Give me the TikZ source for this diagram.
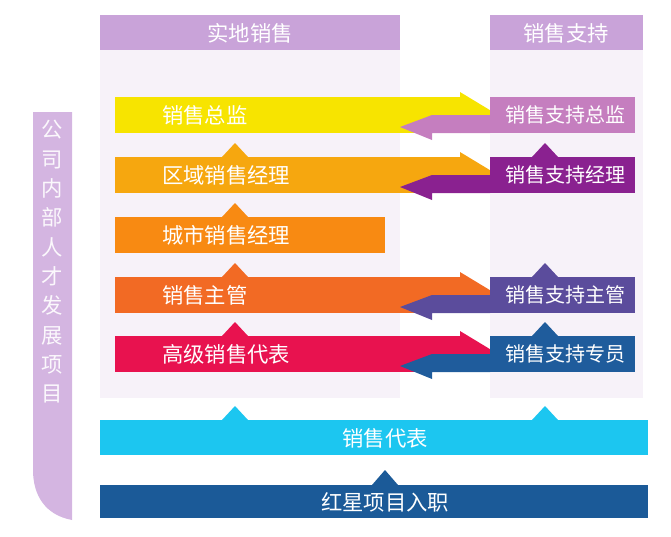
\documentclass[tikz,border=0pt]{standalone}
\usepackage{fontspec}
\newfontfamily\cjk{Noto Sans CJK SC}
\usetikzlibrary{positioning}
\definecolor{lav}{HTML}{C9A3D9}
\definecolor{paleL}{HTML}{F7F2F9}
\definecolor{cA}{HTML}{F7E400}
\definecolor{cB}{HTML}{F6A70F}
\definecolor{cC}{HTML}{F88A12}
\definecolor{cD}{HTML}{F26A24}
\definecolor{cE}{HTML}{E8124F}
\definecolor{rA}{HTML}{C57EBF}
\definecolor{rB}{HTML}{8A2190}
\definecolor{rD}{HTML}{5B4C9C}
\definecolor{rE}{HTML}{1F5C9C}
\definecolor{cyanbar}{HTML}{1CC6F0}
\definecolor{navybar}{HTML}{1B5A98}
\begin{document}
\begin{tikzpicture}[x=0.75pt,y=-0.75pt]
	\tikzset{every node/.style={font=\cjk\fontsize{16}{18}\selectfont,text=white,inner sep=0pt},
		lbl/.style={anchor=west},
		rlbl/.style={anchor=center,font=\cjk\fontsize{15}{18}\selectfont}}
	\useasboundingbox (0,0) rectangle (671,536);
	
	%%columns and headers
	\fill [paleL] (100,50) rectangle (400,398);
	\fill [paleL] (490,50) rectangle (643,398);
	\fill [lav] (100,15) rectangle (400,50);
	\fill [lav] (490,15) rectangle (643,50);
	\node (hfield) at (250,33) {实地销售};
	\node (hsupp) at (566,33) {销售支持};
	
	%%left bar
	\fill [lav!80] (33,112) -- (72,112) -- (72,520) .. controls (45,515) and (33,495) .. (33,470) -- cycle;
	\node (vert) [align=center,text=white!92!lav,font=\cjk\fontsize{16}{22}\selectfont] at (52,262) {公\\司\\内\\部\\人\\才\\发\\展\\项\\目};
	
	%%up markers
	\foreach \y/\c in {157/cB,217/cC,277/cD,336/cE,420/cyanbar}
		\fill [\c] (222,\y) -- (235,\y-14) -- (248,\y) -- cycle;
	\foreach \y/\c in {157/rB,277/rD,336/rE,420/cyanbar}
		\fill [\c] (532,\y) -- (545,\y-14) -- (558,\y) -- cycle;
	\fill [navybar] (372,485) -- (385,470) -- (398,485) -- cycle;
	
	%%forward arrows
	\foreach \y/\c in {97/cA,157/cB,277/cD,336/cE}{
		\fill [\c] (115,\y) rectangle (460,\y+36);
		\fill [\c] (460,\y-5) -- (498,\y+18) -- (460,\y+36) -- cycle;
	}
	\fill [cC] (115,217) rectangle (385,253);
	
	%%right boxes with return arrows
	\foreach \y/\c in {97/rA,157/rB,277/rD,336/rE}{
		\fill [\c] (490,\y) rectangle (635,\y+36);
		\fill [\c] (490,\y+18) -- (432,\y+18) -- (400,\y+30) -- (432,\y+43) -- (432,\y+36) -- (490,\y+36) -- cycle;
	}
	
	%%labels
	\node (dir) [lbl] at (162,115) {销售总监};
	\node (reg) [lbl] at (162,175) {区域销售经理};
	\node (city) [lbl] at (162,235) {城市销售经理};
	\node (sup) [lbl] at (162,295) {销售主管};
	\node (rep) [lbl] at (162,354) {高级销售代表};
	\node (sdir) [rlbl] at (565,115) {销售支持总监};
	\node (sreg) [rlbl] at (565,175) {销售支持经理};
	\node (ssup) [rlbl] at (565,295) {销售支持主管};
	\node (sspec) [rlbl] at (565,354) {销售支持专员};
	
	%%bottom bars
	\fill [cyanbar] (100,420) rectangle (648,455);
	\fill [navybar] (100,485) rectangle (648,518);
	\node (base) at (385,438) {销售代表};
	\node (entry) at (385,502) {红星项目入职};

\end{tikzpicture}
\end{document}
